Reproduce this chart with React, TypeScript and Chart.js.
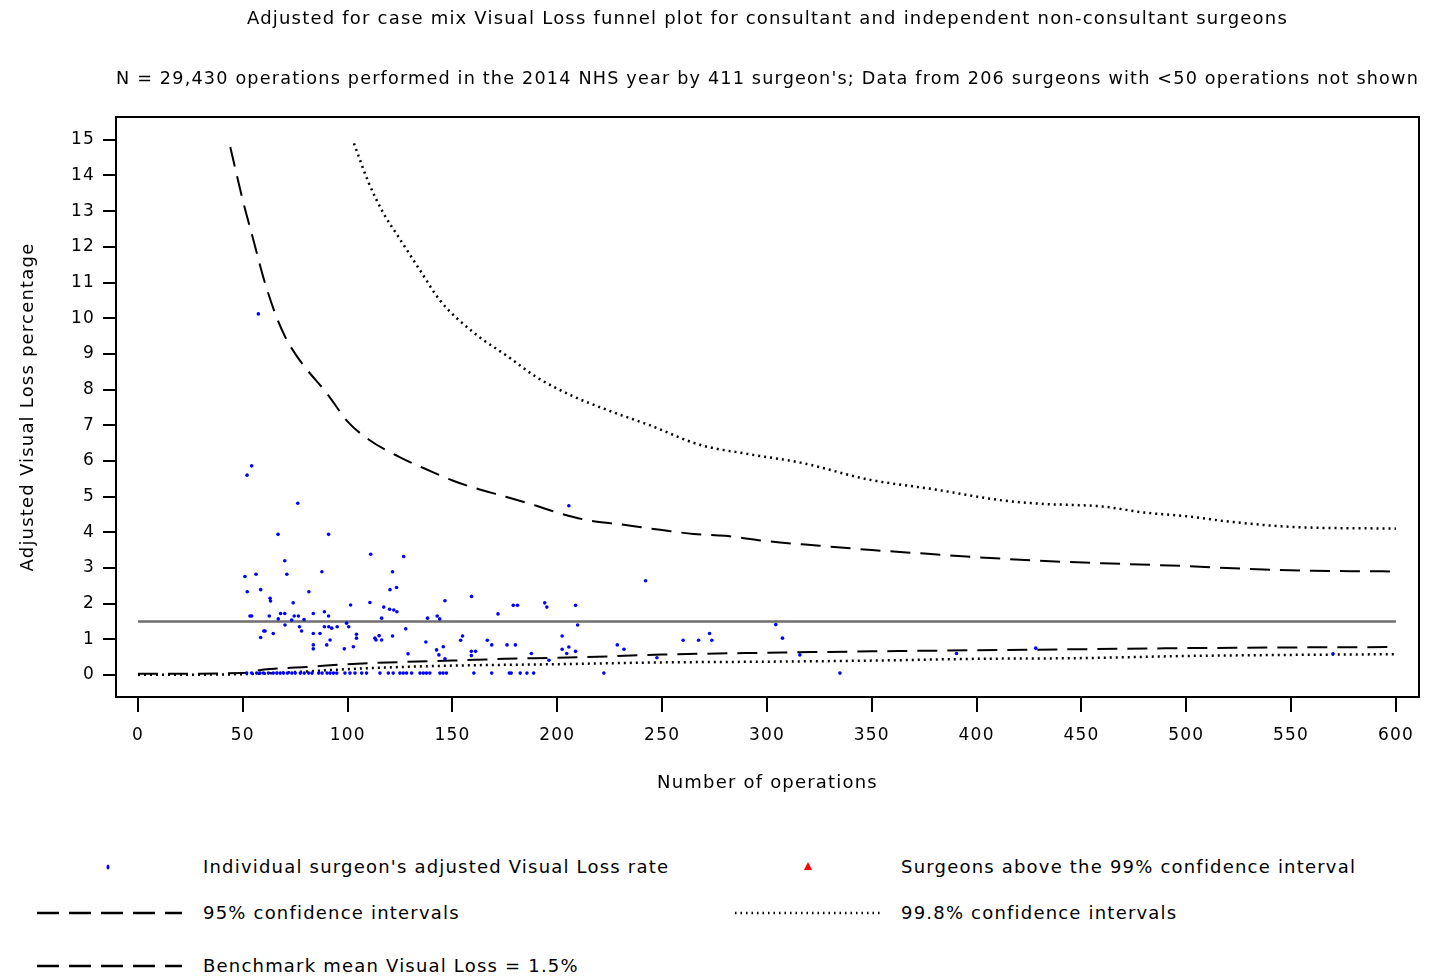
import { useEffect, useRef } from 'react'
import { Chart, registerables } from 'chart.js'

Chart.register(...registerables)

const FONT = '"DejaVu Sans", Verdana, sans-serif'
const SPACING = '1.2px'

// individual surgeons: number of operations and adjusted visual loss %
const surgeonOps = [
  57.4, 52, 54.2, 76.2, 66.8, 90.9, 70, 51, 56.3, 71, 87.7, 111, 126.7, 121.4, 205.5, 242.1,
  52.1, 58.5, 63, 63.2, 81.5, 74, 101.4, 110.6, 120.2, 123.3, 117.2, 120, 122, 123.5, 146.4, 159.1,
  171.7, 179, 181, 194, 195, 208.7,
  53.4, 54.2, 62.6, 68, 70, 66.9, 74.5, 76.5, 73.3, 79.2, 83.6, 88.9, 90.9, 116.2, 138.1, 142.7, 143.9,
  70.1, 77, 78, 60, 60.6, 58.5, 64.5, 83.6, 86.8, 88.9, 91, 92.4, 95, 99.5, 100.5, 91.6, 90, 83.6, 83.6,
  98.4, 102.7, 104.2, 104.2, 113, 113.5, 115, 116.2, 121.4, 127.7, 128.8, 137.3, 142.4, 143.5, 145.6, 146.4,
  209.7, 153.9, 154.8, 159, 159, 161, 166.6, 168.7, 176, 180, 187.6, 196, 202.3, 202.3, 204.5, 205.5, 208.7,
  228.6, 231.8, 247.5, 260, 267.4, 272.6, 273.7, 304.2, 307.4, 315.7, 390.4, 428.2, 570,
  51.8, 54.2, 56.6, 58.2, 59.8, 62.2, 64.5, 66.2, 67.8, 69.4, 71.3, 73.4, 75, 77.4, 79.3, 81.4, 83,
  86.2, 87.8, 90.2, 91.6, 93.2, 94.8, 98.7, 101.1, 103.5, 106.7, 109, 115.4, 119.4, 121.7, 124.9,
  126.5, 128.1, 130.5, 134.5, 136.1, 137.6, 139.2, 144, 145.5, 147.1, 160.2, 168.7, 177.1, 178,
  182.3, 185.5, 188.7, 222.2, 334.8,
]
const surgeonRates = [
  10.12, 5.6, 5.86, 4.81, 3.94, 3.94, 3.2, 2.76, 2.82, 2.82, 2.89, 3.38, 3.32, 2.89, 4.74, 2.64,
  2.33, 2.39, 2.15, 2.07, 2.33, 2.02, 1.96, 2.03, 2.39, 2.45, 1.9, 1.84, 1.82, 1.77, 2.08, 2.2,
  1.71, 1.95, 1.95, 2.02, 1.9, 1.95,
  1.65, 1.65, 1.65, 1.72, 1.72, 1.57, 1.65, 1.65, 1.54, 1.55, 1.72, 1.77, 1.65, 1.59, 1.59, 1.65, 1.57,
  1.4, 1.35, 1.23, 1.23, 1.23, 1.05, 1.16, 1.16, 1.16, 1.35, 1.35, 1.31, 1.35, 1.45, 1.35, 0.98, 0.84, 0.84, 0.73,
  0.73, 0.79, 1.14, 1.03, 1.03, 0.98, 1.1, 0.98, 1.09, 1.29, 0.59, 0.92, 0.7, 0.56, 0.79, 0.45,
  1.4, 0.97, 1.09, 0.66, 0.54, 0.66, 0.97, 0.84, 0.84, 0.84, 0.6, 0.41, 1.09, 0.72, 0.6, 0.78, 0.66,
  0.84, 0.72, 0.48, 0.97, 0.97, 1.16, 0.97, 1.41, 1.03, 0.56, 0.6, 0.75, 0.59,
  0.05, 0.05, 0.05, 0.05, 0.05, 0.05, 0.05, 0.05, 0.05, 0.05, 0.05, 0.05, 0.05, 0.05, 0.05, 0.05, 0.05,
  0.05, 0.05, 0.05, 0.05, 0.05, 0.05, 0.05, 0.05, 0.05, 0.05, 0.05, 0.05, 0.05, 0.05, 0.05,
  0.05, 0.05, 0.05, 0.05, 0.05, 0.05, 0.05, 0.05, 0.05, 0.05, 0.05, 0.05, 0.05, 0.05,
  0.05, 0.05, 0.05, 0.05, 0.05,
]

const benchmarkRate = 1.5
const benchmarkOps = [0, 600]

// 95% control limits
const ci95UpperOps = [44, 50, 55, 60, 65, 70, 75, 80, 90, 100, 110, 125, 140, 150, 160, 175, 190, 200, 215, 230, 250, 265, 280, 300, 325, 350, 375, 400, 430, 460, 500, 530, 560, 600]
const ci95Upper = [14.8, 13.3, 12.2, 11.1, 10.2, 9.5, 9.0, 8.6, 7.9, 7.1, 6.6, 6.1, 5.7, 5.45, 5.25, 5.0, 4.74, 4.55, 4.33, 4.22, 4.06, 3.95, 3.9, 3.75, 3.62, 3.5, 3.4, 3.3, 3.2, 3.13, 3.05, 2.97, 2.92, 2.9]
const ci95LowerOps = [0, 50, 60, 80, 100, 125, 150, 175, 200, 225, 250, 300, 350, 400, 450, 500, 550, 600]
const ci95Lower = [0.03, 0.05, 0.15, 0.22, 0.3, 0.36, 0.4, 0.45, 0.48, 0.52, 0.57, 0.62, 0.66, 0.69, 0.72, 0.75, 0.77, 0.78]

// 99.8% control limits
const ci998UpperOps = [103, 110, 117, 124, 135, 144, 160, 177, 190, 206, 225, 244, 268, 290, 316, 349, 380, 411, 430, 460, 480, 500, 520, 550, 600]
const ci998Upper = [14.9, 13.8, 12.95, 12.3, 11.3, 10.5, 9.6, 8.9, 8.35, 7.85, 7.4, 7.0, 6.45, 6.2, 5.95, 5.47, 5.2, 4.9, 4.8, 4.72, 4.55, 4.45, 4.3, 4.15, 4.1]
const ci998LowerOps = [0, 50, 75, 100, 125, 150, 200, 250, 300, 350, 400, 450, 500, 550, 600]
const ci998Lower = [0, 0.02, 0.08, 0.16, 0.22, 0.26, 0.3, 0.35, 0.37, 0.4, 0.45, 0.47, 0.53, 0.56, 0.58]

const xTicks = [0, 50, 100, 150, 200, 250, 300, 350, 400, 450, 500, 550, 600]
const yTicks = [0, 1, 2, 3, 4, 5, 6, 7, 8, 9, 10, 11, 12, 13, 14, 15]

const toPoints = (xs: number[], ys: number[]) => xs.map((x, i) => ({ x, y: ys[i] }))

// wider letter spacing like the original export, and the plot frame
const spacingPlugin = {
  id: 'spacing',
  beforeUpdate(chart: Chart) {
    ;(chart.ctx as any).letterSpacing = SPACING
  },
  beforeDraw(chart: Chart) {
    ;(chart.ctx as any).letterSpacing = SPACING
  },
}

const framePlugin = {
  id: 'frame',
  afterDatasetsDraw(chart: Chart) {
    const { ctx, chartArea: a } = chart
    ctx.save()
    ctx.strokeStyle = '#000'
    ctx.lineWidth = 2
    ctx.strokeRect(a.left, a.top, a.right - a.left, a.bottom - a.top)
    ctx.restore()
  },
}

function FunnelChart() {
  const chartRef = useRef<HTMLCanvasElement>(null)
  const chartInstance = useRef<Chart | null>(null)

  useEffect(() => {
    if (!chartRef.current) return
    if (chartInstance.current) chartInstance.current.destroy()

    const limitLine = (label: string, xs: number[], ys: number[], dash: number[], width: number) => ({
      label,
      data: toPoints(xs, ys),
      showLine: true,
      borderColor: '#000',
      borderWidth: width,
      borderDash: dash,
      pointRadius: 0,
      cubicInterpolationMode: 'monotone' as const,
    })

    chartInstance.current = new Chart(chartRef.current, {
      type: 'scatter',
      data: {
        datasets: [
          {
            label: "Individual surgeon's adjusted Visual Loss rate",
            data: toPoints(surgeonOps, surgeonRates),
            pointRadius: 1.8,
            pointBorderWidth: 0,
            backgroundColor: '#0000ff',
            borderColor: '#0000ff',
          },
          {
            label: 'Benchmark mean Visual Loss = 1.5%',
            data: benchmarkOps.map((x) => ({ x, y: benchmarkRate })),
            showLine: true,
            borderColor: '#6e6e6e',
            borderWidth: 2.5,
            pointRadius: 0,
          },
          limitLine('95% upper', ci95UpperOps, ci95Upper, [20, 10], 2),
          limitLine('95% lower', ci95LowerOps, ci95Lower, [20, 10], 2),
          limitLine('99.8% upper', ci998UpperOps, ci998Upper, [2, 4], 2.5),
          limitLine('99.8% lower', ci998LowerOps, ci998Lower, [2, 4], 2.5),
        ],
      },
      options: {
        animation: false,
        responsive: true,
        maintainAspectRatio: false,
        layout: { padding: { left: 0, right: 17, top: 0, bottom: 0 } },
        plugins: {
          legend: { display: false },
          tooltip: { enabled: false },
          title: {
            display: true,
            fullSize: false,
            text: 'Adjusted for case mix Visual Loss funnel plot for consultant and independent non-consultant surgeons',
            color: '#000',
            font: { family: FONT, size: 18, weight: 'normal' },
            padding: { top: 8.5, bottom: 20 },
          },
          subtitle: {
            display: true,
            fullSize: false,
            text: "N = 29,430 operations performed in the 2014 NHS year by 411 surgeon's; Data from 206 surgeons with <50 operations not shown",
            color: '#000',
            font: { family: FONT, size: 18, weight: 'normal' },
            padding: { top: 18.6, bottom: 26.7 },
          },
        },
        scales: {
          x: {
            type: 'linear',
            min: -10.5,
            max: 611,
            afterBuildTicks: (scale) => {
              scale.ticks = xTicks.map((value) => ({ value }))
            },
            afterFit: (scale) => {
              scale.height = 103
            },
            border: { display: false },
            grid: { drawOnChartArea: false, drawTicks: true, tickLength: 15, color: '#000', lineWidth: 2 },
            ticks: { color: '#000', padding: 13, font: { family: FONT, size: 17 } },
            title: {
              display: true,
              text: 'Number of operations',
              color: '#000',
              font: { family: FONT, size: 18 },
              padding: { top: 0, bottom: 6 },
            },
          },
          y: {
            type: 'linear',
            min: -0.62,
            max: 15.64,
            afterBuildTicks: (scale) => {
              scale.ticks = yTicks.map((value) => ({ value }))
            },
            afterFit: (scale) => {
              scale.width = 116
            },
            border: { display: false },
            grid: { drawOnChartArea: false, drawTicks: true, tickLength: 13, color: '#000', lineWidth: 2 },
            ticks: { color: '#000', padding: 8, font: { family: FONT, size: 17 } },
            title: {
              display: true,
              text: 'Adjusted Visual Loss percentage',
              color: '#000',
              font: { family: FONT, size: 18 },
              padding: { top: 18, bottom: 0 },
            },
          },
        },
      },
      plugins: [spacingPlugin, framePlugin],
    })

    return () => {
      if (chartInstance.current) {
        chartInstance.current.destroy()
        chartInstance.current = null
      }
    }
  }, [])

  return (
    <div style={{ position: 'absolute', left: 0, top: 0, width: 1436, height: 800 }}>
      <canvas ref={chartRef}></canvas>
    </div>
  )
}

const textStyle = (left: number, cy: number) => ({
  position: 'absolute' as const,
  left,
  top: cy - 11,
  lineHeight: '22px',
  whiteSpace: 'nowrap' as const,
})

function LegendLine({ left, width, cy, dash }: { left: number; width: number; cy: number; dash: string }) {
  return (
    <svg style={{ position: 'absolute', left, top: cy - 3 }} width={width} height={6}>
      <line x1={0} y1={3} x2={width} y2={3} stroke="#000" strokeWidth={2.5} strokeDasharray={dash} />
    </svg>
  )
}

export default function App() {
  return (
    <div
      style={{
        position: 'absolute',
        left: 0,
        top: 0,
        width: 1436,
        height: 977,
        overflow: 'hidden',
        background: '#fff',
        fontFamily: FONT,
        fontSize: 18,
        letterSpacing: SPACING,
        color: '#000',
      }}
    >
      <FunnelChart />
      <svg style={{ position: 'absolute', left: 105, top: 863 }} width={6} height={8}>
        <ellipse cx={3} cy={4} rx={1.5} ry={2.5} fill="#0000ff" />
      </svg>
      <div style={textStyle(203, 867)}>Individual surgeon's adjusted Visual Loss rate</div>
      <svg style={{ position: 'absolute', left: 804, top: 862 }} width={8} height={8}>
        <polygon points="4,0 8,8 0,8" fill="#ff0000" />
      </svg>
      <div style={textStyle(901, 867)}>Surgeons above the 99% confidence interval</div>

      <LegendLine left={37} width={145} cy={913} dash="22 10" />
      <div style={textStyle(203, 913)}>95% confidence intervals</div>
      <LegendLine left={735} width={145} cy={913} dash="1.5 4" />
      <div style={textStyle(901, 913)}>99.8% confidence intervals</div>

      <LegendLine left={37} width={145} cy={966} dash="22 10" />
      <div style={textStyle(203, 966)}>Benchmark mean Visual Loss = 1.5%</div>
    </div>
  )
}
